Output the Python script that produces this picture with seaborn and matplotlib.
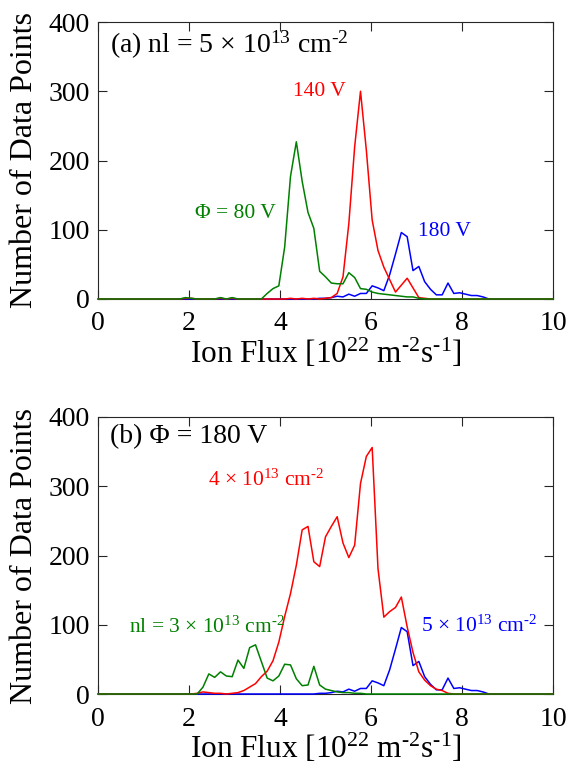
import numpy as np
import pandas as pd
import matplotlib
matplotlib.use("Agg")
import matplotlib.pyplot as plt
import seaborn as sns

# Bin centres of the ion-flux histograms [10^22 m^-2 s^-1]
flux_bins = np.linspace(0, 10, 79)

# (a) nl = 5e13 cm^-2, bias scan
counts_80V = [0, 0, 0, 0, 0, 0, 0, 0, 0, 0, 0, 0, 0, 0, 0, 2, 1, 0, 0, 0,
              0, 2, 0, 2, 0, 0, 0, 0, 0, 8, 15, 19, 75, 177, 227, 170, 125, 102, 40, 32,
              23, 22, 22, 38, 31, 15, 14, 10, 8, 7, 6, 5, 4, 3, 3, 1, 0, 0, 0, 0,
              0, 0, 0, 0, 0, 0, 0, 0, 0, 0, 0, 0, 0, 0, 0, 0, 0, 0, 0]
counts_140V = [0, 0, 0, 0, 0, 0, 0, 0, 0, 0, 0, 0, 0, 0, 0, 1, 1, 0, 0, 0,
               0, 1, 0, 1, 0, 0, 0, 0, 0, 0, 0, 0, 0, 1, 0, 1, 0, 1, 0, 1,
               2, 8, 32, 109, 220, 300, 215, 114, 70, 46, 28, 10, 20, 30, 16, 2, 1, 0, 0, 0,
               0, 0, 0, 0, 0, 0, 0, 0, 0, 0, 0, 0, 0, 0, 0, 0, 0, 0, 0]
# shared series: nl = 5e13 cm^-2 at 180 V (appears in both panels)
counts_180V_5e13 = [0, 0, 0, 0, 0, 0, 0, 0, 0, 0, 0, 0, 0, 0, 0, 0, 0, 0, 0, 0,
                    0, 0, 0, 0, 0, 0, 0, 0, 0, 0, 0, 0, 0, 0, 0, 0, 0, 0, 1, 1,
                    2, 4, 3, 7, 4, 8, 8, 19, 16, 12, 35, 65, 96, 90, 41, 47, 25, 14, 6, 6,
                    23, 8, 9, 7, 5, 5, 3, 0, 0, 0, 0, 0, 0, 0, 0, 0, 0, 0, 0]

# (b) bias 180 V, density scan
counts_3e13 = [0, 0, 0, 0, 0, 0, 0, 0, 0, 0, 0, 0, 0, 0, 0, 0, 0, 0, 10, 29,
               24, 32, 26, 25, 49, 37, 67, 71, 47, 23, 19, 26, 43, 42, 22, 12, 13, 40, 13, 7,
               5, 3, 2, 2, 1, 1, 0, 0, 0, 0, 0, 0, 0, 0, 0, 0, 0, 0, 0, 0,
               0, 0, 0, 0, 0, 0, 0, 0, 0, 0, 0, 0, 0, 0, 0, 0, 0, 0, 0]
counts_4e13 = [0, 0, 0, 0, 0, 0, 0, 0, 0, 0, 0, 0, 0, 0, 0, 0, 0, 1, 3, 2,
               1, 1, 0, 1, 2, 5, 10, 15, 25, 33, 48, 75, 112, 145, 186, 237, 242, 191, 184, 227,
               242, 256, 218, 197, 215, 304, 343, 356, 181, 111, 119, 125, 140, 97, 60, 32, 20, 12, 7, 5,
               1, 0, 0, 0, 0, 0, 0, 0, 0, 0, 0, 0, 0, 0, 0, 0, 0, 0, 0]

x_ticks = [0, 2, 4, 6, 8, 10]
y_ticks = [0, 100, 200, 300, 400]

RED = (1, 0, 0)
BLUE = (0, 0, 1)
GREEN = (0, 0.5, 0)
AXCOL = (0.15, 0.15, 0.15)

sns.set_style("ticks")
plt.rcParams["font.family"] = ["Liberation Serif", "DejaVu Serif"]
plt.rcParams["text.color"] = "black"
plt.rcParams["axes.labelcolor"] = "black"
plt.rcParams["mathtext.fontset"] = "custom"
plt.rcParams["mathtext.rm"] = "Liberation Serif"
plt.rcParams["mathtext.it"] = "Liberation Serif:italic"
plt.rcParams["mathtext.bf"] = "Liberation Serif:bold"

fig = plt.figure(figsize=(5.69, 7.83), dpi=100)
W, H = 569.0, 783.0
left, right = 98, 553
ax_a = fig.add_axes([left / W, 1 - 299 / H, (right - left) / W, 277 / H])
ax_b = fig.add_axes([left / W, 1 - 694 / H, (right - left) / W, 277 / H])

SUP_M2 = r"$^{\text{-}2}$"


def draw_panel(ax, series):
    for counts, color in series:
        df = pd.DataFrame({"flux": flux_bins, "n": counts})
        sns.lineplot(data=df, x="flux", y="n", color=color, lw=1.1, ax=ax)
    for ln in ax.get_lines():
        ln.set_clip_on(False)
        ln.set_zorder(3)
    ax.set_xlim(0, 10)
    ax.set_ylim(0, 400)
    ax.set_xticks(x_ticks)
    ax.set_yticks(y_ticks)
    ax.tick_params(direction="in", length=6.5, width=0.8, colors=AXCOL,
                   labelsize=20, labelcolor="black", top=True, right=True)
    ax.tick_params(axis="x", pad=9)
    ax.tick_params(axis="y", pad=6)
    for s in ax.spines.values():
        s.set_color(AXCOL)
        s.set_linewidth(0.8)
        s.set_visible(True)
    ax.set_xlabel(r"Ion Flux [10$^{22}$ m$^{\text{-}2}$s$^{\text{-}1}$]", fontsize=22.5, labelpad=0)
    ax.set_ylabel("Number of Data Points", fontsize=23, labelpad=7)


draw_panel(ax_a, [(counts_180V_5e13, BLUE), (counts_140V, RED), (counts_80V, GREEN)])
draw_panel(ax_b, [(counts_180V_5e13, BLUE), (counts_4e13, RED), (counts_3e13, GREEN)])

ax_a.text(0.026, 0.917, r"(a) nl = 5 × 10$^{13}$ cm" + SUP_M2, transform=ax_a.transAxes,
          fontsize=20, ha="left", va="center")
ax_a.text(4.86, 300, "140 V", color=RED, fontsize=15.5, ha="center", va="center")
ax_a.text(3.02, 124, "Φ = 80 V", color=GREEN, fontsize=15.5, ha="center", va="center")
ax_a.text(7.62, 98, "180 V", color=BLUE, fontsize=15.5, ha="center", va="center")

ax_b.text(0.026, 0.928, "(b) Φ = 180 V", transform=ax_b.transAxes,
          fontsize=20, ha="left", va="center")
ax_b.text(3.69, 309, r"4 × 10$^{13}$ cm" + SUP_M2, color=RED, fontsize=15.5,
          ha="center", va="center")
ax_b.text(2.39, 97, r"nl = 3 × 10$^{13}$ cm" + SUP_M2, color=GREEN, fontsize=15.5,
          ha="center", va="center")
ax_b.text(8.38, 98, r"5 × 10$^{13}$ cm" + SUP_M2, color=BLUE, fontsize=15.5,
          ha="center", va="center")

fig.savefig("out.png", dpi=100)
